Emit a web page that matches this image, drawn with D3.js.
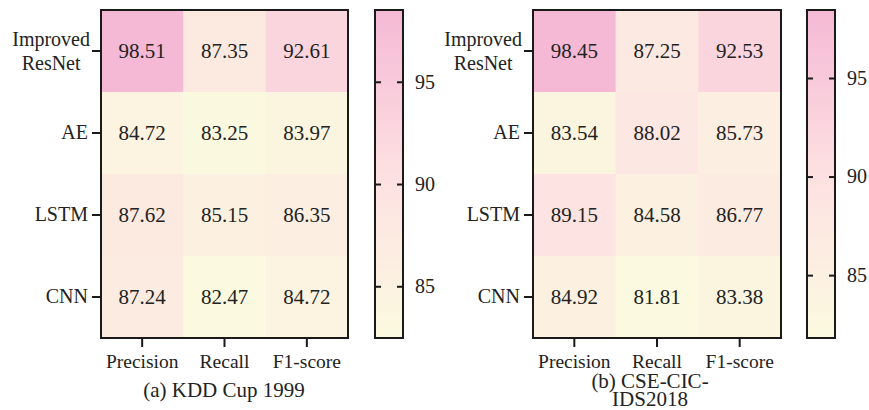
<!DOCTYPE html>
<html>
<head>
<meta charset="utf-8">
<script src="https://cdn.jsdelivr.net/npm/d3@7/dist/d3.min.js"></script>
<style>
  html, body { margin: 0; padding: 0; background: #fff; }
  svg text { font-family: "Liberation Serif", "Times New Roman", serif; fill: #222; }
</style>
</head>
<body>
<svg id="chart" width="869" height="410"></svg>
<script>
// Models (rows) and metrics (columns)
const models = ["Improved ResNet", "AE", "LSTM", "CNN"];
const metrics = ["Precision", "Recall", "F1-score"];

// Scores (%) per model, ordered as metrics
const kddValues = [
  [98.51, 87.35, 92.61],
  [84.72, 83.25, 83.97],
  [87.62, 85.15, 86.35],
  [87.24, 82.47, 84.72]
];
const cicValues = [
  [98.45, 87.25, 92.53],
  [83.54, 88.02, 85.73],
  [89.15, 84.58, 86.77],
  [84.92, 81.81, 83.38]
];

const colorbarTicks = [85, 90, 95];
const panelTitles = [["(a) KDD Cup 1999"], ["(b) CSE-CIC-", "IDS2018"]];

// Colour ramp: pale yellow -> blush -> pink
const ramp = d3.scaleLinear()
  .domain([0, 0.47, 1])
  .range(["#fbfae0", "#fde2e2", "#f5b9d5"])
  .interpolate(d3.interpolateRgb);

const svg = d3.select("#chart");
const defs = svg.append("defs");

const panels = [
  { id: "kdd", values: kddValues, x0: 101, x1: 348, cbX: 375, title: panelTitles[0], titleX: 224, titleY: [397] },
  { id: "cic", values: cicValues, x0: 533, x1: 781, cbX: 807, title: panelTitles[1], titleX: 650, titleY: [388, 406] }
];
const plotTop = 10, plotBottom = 338, cbW = 28;
const fontSize = 20;

panels.forEach(p => {
  const flat = p.values.flat();
  const vmin = d3.min(flat), vmax = d3.max(flat);
  const norm = d3.scaleLinear().domain([vmin, vmax]);
  const color = v => ramp(norm(v));

  const x = d3.scaleBand().domain(metrics).range([p.x0, p.x1]);
  const y = d3.scaleBand().domain(models).range([plotTop, plotBottom]);

  const g = svg.append("g");

  // cells
  const cells = models.flatMap((m, i) => metrics.map((k, j) => ({ m, k, v: p.values[i][j] })));
  g.selectAll("rect.cell").data(cells).join("rect")
    .attr("class", "cell")
    .attr("x", d => x(d.k)).attr("y", d => y(d.m))
    .attr("width", x.bandwidth() + 0.5).attr("height", y.bandwidth() + 0.5)
    .attr("fill", d => color(d.v));

  g.selectAll("text.val").data(cells).join("text")
    .attr("class", "val")
    .attr("x", d => x(d.k) + x.bandwidth() / 2)
    .attr("y", d => y(d.m) + y.bandwidth() / 2 + 7)
    .attr("text-anchor", "middle")
    .style("font-size", "21px")
    .text(d => d.v.toFixed(2));

  // frame
  g.append("rect")
    .attr("x", p.x0).attr("y", plotTop)
    .attr("width", p.x1 - p.x0).attr("height", plotBottom - plotTop)
    .attr("fill", "none").attr("stroke", "#1a1a1a").attr("stroke-width", 2);

  // left axis
  const yAxis = g.append("g")
    .attr("transform", `translate(${p.x0},0)`)
    .call(d3.axisLeft(y).tickSize(9).tickPadding(4));
  yAxis.select(".domain").remove();
  yAxis.selectAll(".tick line").attr("stroke", "#1a1a1a").attr("stroke-width", 2);
  yAxis.selectAll(".tick text").style("font-size", fontSize + "px").attr("dy", "0.32em");
  yAxis.selectAll(".tick text").each(function(d) {
    const words = d.split(" ");
    if (words.length < 2) return;
    const t = d3.select(this).text(null);
    const spans = words.map(w => t.append("tspan").text(w));
    const widths = spans.map(s => s.node().getComputedTextLength());
    const wMax = d3.max(widths);
    const cx = -11 - wMax / 2;
    t.attr("text-anchor", "middle").attr("dy", null).attr("x", cx).attr("y", 0);
    spans.forEach((s, i) => s.attr("x", cx).attr("y", -5 + i * 24));
  });

  // bottom axis
  const xAxis = g.append("g")
    .attr("transform", `translate(0,${plotBottom})`)
    .call(d3.axisBottom(x).tickSize(9).tickPadding(7));
  xAxis.select(".domain").remove();
  xAxis.selectAll(".tick line").attr("stroke", "#1a1a1a").attr("stroke-width", 2);
  xAxis.selectAll(".tick text").style("font-size", "19.5px");

  // title
  const title = g.append("text")
    .attr("text-anchor", "middle")
    .style("font-size", "21px");
  p.title.forEach((line, i) => {
    title.append("tspan").attr("x", p.titleX).attr("y", p.titleY[i]).text(line);
  });

  // colorbar
  const cbScale = d3.scaleLinear().domain([vmin, vmax]).range([plotBottom, plotTop]);
  const grad = defs.append("linearGradient")
    .attr("id", "grad-" + p.id)
    .attr("x1", 0).attr("y1", 1).attr("x2", 0).attr("y2", 0);
  d3.range(0, 1.0001, 0.05).forEach(t => {
    grad.append("stop").attr("offset", t).attr("stop-color", ramp(t));
  });
  const cb = svg.append("g");
  cb.append("rect")
    .attr("x", p.cbX).attr("y", plotTop)
    .attr("width", cbW).attr("height", plotBottom - plotTop)
    .attr("fill", `url(#grad-${p.id})`)
    .attr("stroke", "#1a1a1a").attr("stroke-width", 2);

  const cbRight = cb.append("g")
    .attr("transform", `translate(${p.cbX + cbW},0)`)
    .call(d3.axisRight(cbScale).tickValues(colorbarTicks).tickSize(-6).tickPadding(12).tickFormat(d3.format("d")));
  cbRight.select(".domain").remove();
  cbRight.selectAll(".tick line").attr("stroke", "#1a1a1a").attr("stroke-width", 2);
  cbRight.selectAll(".tick text").style("font-size", fontSize + "px");

  const cbLeft = cb.append("g")
    .attr("transform", `translate(${p.cbX},0)`)
    .call(d3.axisLeft(cbScale).tickValues(colorbarTicks).tickSize(-6).tickFormat(""));
  cbLeft.select(".domain").remove();
  cbLeft.selectAll(".tick line").attr("stroke", "#1a1a1a").attr("stroke-width", 2);
});
</script>
</body>
</html>
